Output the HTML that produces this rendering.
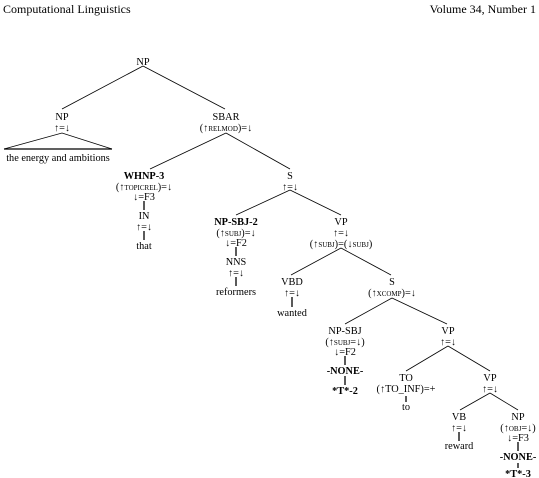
<!DOCTYPE html>
<html><head><meta charset="utf-8"><style>
html,body{margin:0;padding:0;background:#fff;}
svg{display:block;}
text{font-family:"Liberation Serif",serif;font-size:10.3px;fill:#000;text-anchor:middle;}
.b{font-weight:bold;}
.sc{font-variant:small-caps;}
line,polyline{stroke:#000;stroke-width:0.8;fill:none;}
.v{stroke-width:1.3;}
</style></head><body>
<svg width="539" height="478" viewBox="0 0 539 478">
<text x="3" y="13" style="text-anchor:start;font-size:12px">Computational Linguistics</text>
<text x="536" y="13" style="text-anchor:end;font-size:12px">Volume 34, Number 1</text>

<g>
<line x1="143" y1="66" x2="62" y2="109"/><line x1="143" y1="66" x2="225" y2="109"/>
<polyline points="4,149 62,133 112,149"/><line x1="4" y1="149" x2="112" y2="149" class="v"/>
<line x1="226" y1="133" x2="150" y2="169"/><line x1="226" y1="133" x2="290" y2="169"/>
<line x1="144" y1="201" x2="144" y2="210" class="v"/>
<line x1="144" y1="231" x2="144" y2="240" class="v"/>
<line x1="290" y1="190" x2="236" y2="215"/><line x1="290" y1="190" x2="341" y2="215"/>
<line x1="236" y1="247" x2="236" y2="256" class="v"/>
<line x1="236" y1="277" x2="236" y2="286" class="v"/>
<line x1="341" y1="248" x2="291" y2="275"/><line x1="341" y1="248" x2="391" y2="275"/>
<line x1="292" y1="297" x2="292" y2="307" class="v"/>
<line x1="392" y1="298" x2="345" y2="324"/><line x1="392" y1="298" x2="447" y2="324"/>
<line x1="345" y1="356" x2="345" y2="365" class="v"/>
<line x1="345" y1="376" x2="345" y2="385" class="v"/>
<line x1="448" y1="346" x2="406" y2="371"/><line x1="448" y1="346" x2="490" y2="371"/>
<line x1="406" y1="396" x2="406" y2="402" class="v"/>
<line x1="490" y1="393" x2="460" y2="410"/><line x1="490" y1="393" x2="518" y2="410"/>
<line x1="459" y1="432" x2="459" y2="441" class="v"/>
<line x1="518" y1="442" x2="518" y2="451" class="v"/>
<line x1="518" y1="463" x2="518" y2="468" class="v"/>
</g>

<g transform="translate(0,3)">
<text x="143" y="62">NP</text>
<text x="62" y="117">NP</text><text x="62" y="128">↑=↓</text>
<text x="58" y="158">the energy and ambitions</text>
<text x="226" y="117">SBAR</text><text x="226" y="128">(↑<tspan class="sc">relmod</tspan>)=↓</text>
<text x="144" y="176" class="b">WHNP-3</text>
<text x="144" y="187">(↑<tspan class="sc">topicrel</tspan>)=↓</text>
<text x="144" y="197">↓=F3</text>
<text x="144" y="216">IN</text><text x="144" y="227">↑=↓</text>
<text x="144" y="246">that</text>
<text x="290" y="176">S</text><text x="290" y="187">↑=↓</text>
<text x="236" y="222" class="b">NP-SBJ-2</text>
<text x="236" y="233">(↑<tspan class="sc">subj</tspan>)=↓</text>
<text x="236" y="243">↓=F2</text>
<text x="236" y="262">NNS</text><text x="236" y="273">↑=↓</text>
<text x="236" y="292">reformers</text>
<text x="341" y="222">VP</text><text x="341" y="233">↑=↓</text>
<text x="341" y="244">(↑<tspan class="sc">subj</tspan>)=(↓<tspan class="sc">subj</tspan>)</text>
<text x="292" y="282">VBD</text><text x="292" y="293">↑=↓</text>
<text x="292" y="313">wanted</text>
<text x="392" y="282">S</text><text x="392" y="293">(↑<tspan class="sc">xcomp</tspan>)=↓</text>
<text x="345" y="331">NP-SBJ</text>
<text x="345" y="342">(↑<tspan class="sc">subj</tspan>=↓)</text>
<text x="345" y="352">↓=F2</text>
<text x="345" y="371" class="b">-NONE-</text>
<text x="345" y="391" class="b">*T*-2</text>
<text x="448" y="331">VP</text><text x="448" y="342">↑=↓</text>
<text x="406" y="378">TO</text><text x="406" y="389">(↑TO_INF)=+</text>
<text x="406" y="407">to</text>
<text x="490" y="378">VP</text><text x="490" y="389">↑=↓</text>
<text x="459" y="417">VB</text><text x="459" y="428">↑=↓</text>
<text x="459" y="446">reward</text>
<text x="518" y="417">NP</text>
<text x="518" y="428">(↑<tspan class="sc">obj</tspan>=↓)</text>
<text x="518" y="438">↓=F3</text>
<text x="518" y="457" class="b">-NONE-</text>
<text x="518" y="474" class="b">*T*-3</text>
</g>
</svg>
</body></html>
